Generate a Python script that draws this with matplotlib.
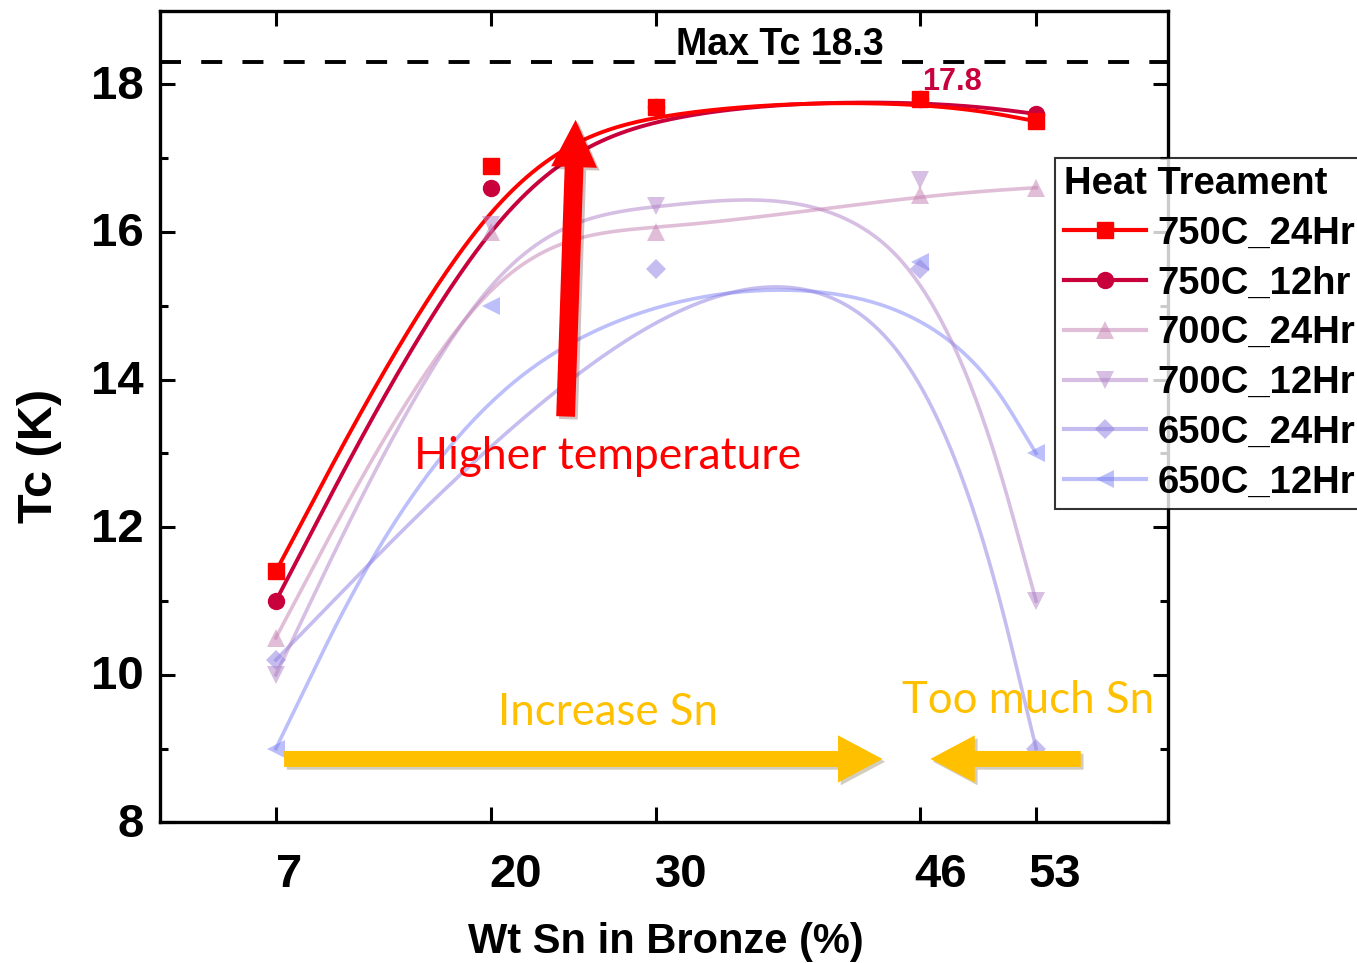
"""Tc vs Sn content in bronze for several heat treatments."""
import matplotlib
matplotlib.use("Agg")
import matplotlib.pyplot as plt
import matplotlib.patheffects as pe
from matplotlib.lines import Line2D
from matplotlib.transforms import ScaledTranslation
import numpy as np

plt.rcParams["font.family"] = ["Liberation Sans", "DejaVu Sans"]

# ── data ────────────────────────────────────────────────────────────────────
X_TICKS = [7, 20, 30, 46, 53]

WT_750_24 = [7, 20, 30, 46, 53]
TC_750_24 = [11.4, 16.9, 17.7, 17.8, 17.5]
WT_750_12 = [7, 20, 30, 46, 53]
TC_750_12 = [11.0, 16.6, 17.7, 17.8, 17.6]
WT_700_24 = [7, 20, 30, 46, 53]
TC_700_24 = [10.5, 16.0, 16.0, 16.5, 16.6]
WT_700_12 = [7, 20, 30, 46, 53]
TC_700_12 = [10.0, 16.1, 16.35, 16.7, 11.0]
WT_650_24 = [7, 30, 46, 53]
TC_650_24 = [10.2, 15.5, 15.5, 9.0]
WT_650_12 = [7, 20, 46, 53]
TC_650_12 = [9.0, 15.0, 15.6, 13.0]

MAX_TC = 18.3
PEAK_TC = 17.8

SERIES = [
    ("750C_24Hr", WT_750_24, TC_750_24, "#FF0000", "s", 11, 1.0),
    ("750C_12hr", WT_750_12, TC_750_12, "#C8003C", "o", 11.5, 1.0),
    ("700C_24Hr", WT_700_24, TC_700_24, "#C47FB0", "^", 13, 0.5),
    ("700C_12Hr", WT_700_12, TC_700_12, "#AE80C6", "v", 13, 0.5),
    ("650C_24Hr", WT_650_24, TC_650_24, "#8D7DE0", "D", 10, 0.5),
    ("650C_12Hr", WT_650_12, TC_650_12, "#7A80F5", "<", 12.5, 0.5),
]


def bspline(px, py, num=60):
    """Uniform cubic B-spline with tripled end points (passes through ends)."""
    px = np.r_[px[0], px[0], px, px[-1], px[-1]].astype(float)
    py = np.r_[py[0], py[0], py, py[-1], py[-1]].astype(float)
    t = np.linspace(0, 1, num)
    b0 = (1 - t) ** 3 / 6
    b1 = (3 * t**3 - 6 * t**2 + 4) / 6
    b2 = (-3 * t**3 + 3 * t**2 + 3 * t + 1) / 6
    b3 = t**3 / 6
    cx, cy = [], []
    for i in range(len(px) - 3):
        cx.append(b0 * px[i] + b1 * px[i + 1] + b2 * px[i + 2] + b3 * px[i + 3])
        cy.append(b0 * py[i] + b1 * py[i + 1] + b2 * py[i + 2] + b3 * py[i + 3])
    return np.concatenate(cx), np.concatenate(cy)


fig = plt.figure(figsize=(13.57, 9.63), dpi=100)
ax = fig.add_axes([0.118, 0.146, 0.743, 0.843])

handles = []
for name, xs, ys, col, mk, ms, al in reversed(SERIES):
    cx, cy = bspline(xs, ys)
    lw = 2.8 if al == 1.0 else 2.6
    ax.plot(cx, cy, color=col, lw=lw, alpha=al, zorder=3)
    ax.plot(xs, ys, ls="none", marker=mk, ms=ms, color=col,
            mew=0 if al < 1 else 1, alpha=al, zorder=4)
for name, xs, ys, col, mk, ms, al in SERIES:
    handles.append(Line2D([], [], color=col, lw=3, marker=mk, ms=ms,
                          mew=0 if al < 1 else 1, alpha=al, label=name))

# max Tc reference line
ax.axhline(MAX_TC, color="black", lw=2.8, dashes=(5.4, 5.2), zorder=2)
ax.text(37.5, 18.54, "Max Tc 18.3", ha="center", va="center",
        fontsize=27, fontweight="bold")
ax.text(47.9, 18.03, f"{PEAK_TC}", ha="center", va="center",
        fontsize=22, fontweight="bold", color="#C8003C")

shadow = [pe.SimplePatchShadow(offset=(2, -2), alpha=0.25), pe.Normal()]
callout = ["Lato", "DejaVu Sans"]

# "Higher temperature" arrow
ax.annotate("", xy=(25.14, 17.52), xytext=(24.53, 13.5),
            arrowprops=dict(arrowstyle="simple,head_length=3.4,head_width=3.3,tail_width=1.35",
                            mutation_scale=10, color="#FF0000", lw=0,
                            shrinkA=0, shrinkB=0, path_effects=shadow),
            zorder=6)
ax.text(27.1, 12.96, "Higher temperature", ha="center", va="center",
        fontsize=32, color="#FF0000", family=callout, zorder=6)

# Sn arrows
ax.annotate("", xy=(43.7, 8.86), xytext=(7.5, 8.86),
            arrowprops=dict(arrowstyle="simple,head_length=3.2,head_width=3.4,tail_width=1.15",
                            mutation_scale=10, color="#FFC000", lw=0,
                            shrinkA=0, shrinkB=0, path_effects=shadow),
            zorder=6)
ax.annotate("", xy=(46.6, 8.86), xytext=(55.7, 8.86),
            arrowprops=dict(arrowstyle="simple,head_length=3.2,head_width=3.4,tail_width=1.15",
                            mutation_scale=10, color="#FFC000", lw=0,
                            shrinkA=0, shrinkB=0, path_effects=shadow),
            zorder=6)
ax.text(27.1, 9.49, "Increase Sn", ha="center", va="center", fontsize=31.5,
        color="#FFC000", family=callout, zorder=6)
ax.text(52.5, 9.65, "Too much Sn", ha="center", va="center", fontsize=31.5,
        color="#FFC000", family=callout, zorder=6)

# axes styling
ax.set_xlim(0, 61)
ax.set_ylim(8, 19)
ax.set_xticks(X_TICKS)
ax.set_xticklabels([str(v) for v in X_TICKS])
ax.set_yticks(np.arange(8, 19, 2))
ax.set_yticks(np.arange(9, 19, 2), minor=True)
ax.tick_params(axis="both", which="both", direction="in", top=True, right=True,
               width=2.2, labelsize=34)
ax.tick_params(axis="both", which="major", length=11)
ax.tick_params(axis="both", which="minor", length=6)
ax.tick_params(axis="x", pad=22)
ax.tick_params(axis="y", pad=12)
for lab in ax.get_xticklabels() + ax.get_yticklabels():
    lab.set_fontweight("bold")
for lab, dx in zip(ax.get_xticklabels(), [13, 25, 25, 20, 19]):
    lab.set_transform(lab.get_transform() + ScaledTranslation(dx / 100, 0, fig.dpi_scale_trans))
for lab in ax.get_yticklabels():
    lab.set_transform(lab.get_transform() + ScaledTranslation(0, 0.025, fig.dpi_scale_trans))
for sp in ax.spines.values():
    sp.set_linewidth(2.4)

ax.set_xlabel("Wt Sn in Bronze (%)", fontsize=30, fontweight="bold")
ax.xaxis.set_label_coords(0.502, -0.123)
ax.set_ylabel("Tc (K)", fontsize=35, fontweight="bold")
ax.yaxis.set_label_coords(-0.097, 0.452)

leg = ax.legend(handles=handles, title="Heat Treament", loc="upper left",
                bbox_to_anchor=(0.888, 0.819),
                title_fontproperties={"size": 27.5, "weight": "bold"},
                prop={"size": 27.5, "weight": "bold"},
                frameon=True, fancybox=False, edgecolor="black",
                handlelength=2.15, handletextpad=0.3, labelspacing=0.36,
                borderpad=0.22, borderaxespad=0, alignment="left", numpoints=1)
leg.get_frame().set_linewidth(1.5)
leg.set_zorder(10)

fig.savefig("out.png", dpi=100)
